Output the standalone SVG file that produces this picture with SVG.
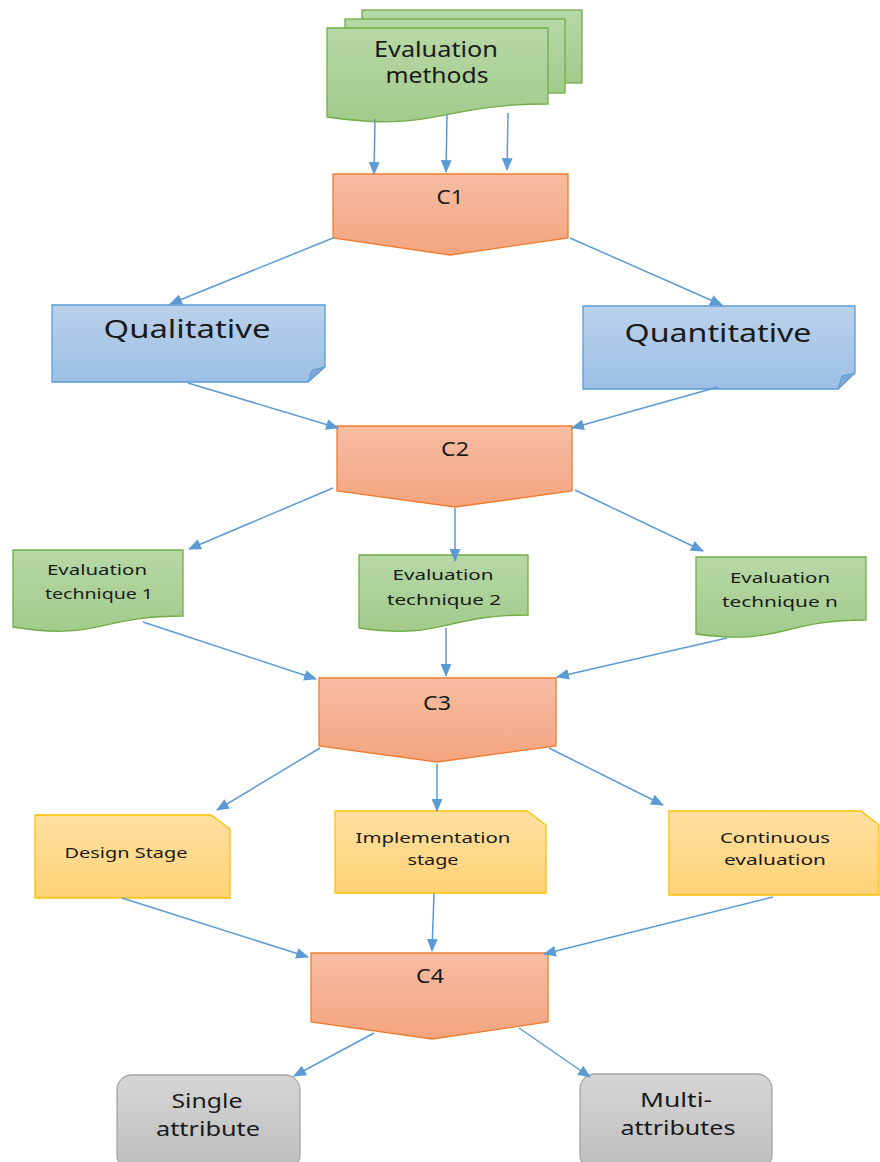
<svg xmlns="http://www.w3.org/2000/svg" width="880" height="1162" viewBox="0 0 880 1162">
  <defs>
    <linearGradient id="gGreen" x1="0" y1="0" x2="0" y2="1">
      <stop offset="0" stop-color="#b6d8a6"/>
      <stop offset="1" stop-color="#a2cb8b"/>
    </linearGradient>
    <linearGradient id="gOrange" x1="0" y1="0" x2="0" y2="1">
      <stop offset="0" stop-color="#f6bda3"/>
      <stop offset="1" stop-color="#f4a47e"/>
    </linearGradient>
    <linearGradient id="gBlue" x1="0" y1="0" x2="0" y2="1">
      <stop offset="0" stop-color="#bad1ea"/>
      <stop offset="1" stop-color="#9cbfe5"/>
    </linearGradient>
    <linearGradient id="gYellow" x1="0" y1="0" x2="0" y2="1">
      <stop offset="0" stop-color="#ffe0a0"/>
      <stop offset="1" stop-color="#ffd276"/>
    </linearGradient>
    <linearGradient id="gGray" x1="0" y1="0" x2="0" y2="1">
      <stop offset="0" stop-color="#d6d6d6"/>
      <stop offset="1" stop-color="#bdbdbd"/>
    </linearGradient>
    <marker id="arrow" viewBox="0 0 12 10" refX="11" refY="5" markerWidth="13" markerHeight="11" markerUnits="userSpaceOnUse" orient="auto">
      <path d="M0,0 L12,5 L0,10 Z" fill="#5b9bd5"/>
    </marker>
  </defs>
  <style>
    .doc { fill: url(#gGreen); stroke: #70ad47; stroke-width: 1.3; }
    .conn { fill: url(#gOrange); stroke: #ed7d31; stroke-width: 1.3; }
    .fold { fill: url(#gBlue); stroke: #5b9bd5; stroke-width: 1.3; }
    .foldTip { fill: #7ea6d3; stroke: #5b9bd5; stroke-width: 1; }
    .snip { fill: url(#gYellow); stroke: #ffc000; stroke-width: 1.3; }
    .term { fill: url(#gGray); stroke: #a5a5a5; stroke-width: 1.3; }
    .edge { fill: none; stroke: #5b9bd5; stroke-width: 1.5; marker-end: url(#arrow); }
    text { font-family: "Noto Sans", "DejaVu Sans", sans-serif; fill: #1a1a1a; text-anchor: middle; }
    .big { font-size: 25px; }
    .mid { font-size: 21px; }
    .clab { font-size: 19px; }
    .small { font-size: 15px; }
    .bottom { font-size: 20px; }
  </style>

  <!-- stacked documents -->
  <g id="evaluation-methods">
    <rect class="doc" x="362" y="10" width="220" height="73"/>
    <rect class="doc" x="345" y="19" width="220" height="74"/>
    <path class="doc" d="M327,28 H548 V104 C437,104 437,133 327,117 Z"/>
    <text class="mid" x="436" y="57" textLength="124" lengthAdjust="spacingAndGlyphs">Evaluation</text>
    <text class="mid" x="437" y="83" textLength="103" lengthAdjust="spacingAndGlyphs">methods</text>
  </g>

  <!-- off-page connectors -->
  <g id="c1">
    <path class="conn" d="M333,174 H568 V238 L450,255 L333,238 Z"/>
    <text class="clab" x="450" y="204" textLength="27" lengthAdjust="spacingAndGlyphs">C1</text>
  </g>
  <g id="c2">
    <path class="conn" d="M337,426 H572 V491 L455,507 L337,491 Z"/>
    <text class="clab" x="455" y="456" textLength="28" lengthAdjust="spacingAndGlyphs">C2</text>
  </g>
  <g id="c3">
    <path class="conn" d="M319,678 H556 V746 L437,762 L319,746 Z"/>
    <text class="clab" x="437" y="710" textLength="28" lengthAdjust="spacingAndGlyphs">C3</text>
  </g>
  <g id="c4">
    <path class="conn" d="M311,953 H548 V1022 L432,1039 L311,1022 Z"/>
    <text class="clab" x="430" y="983" textLength="28" lengthAdjust="spacingAndGlyphs">C4</text>
  </g>

  <!-- folded-corner boxes -->
  <g id="qualitative">
    <path class="fold" d="M52,305 H325 V367 L308,382 H52 Z"/>
    <path class="foldTip" d="M308,382 L312,370 L325,367 Z"/>
    <text class="big" x="187" y="338" textLength="167" lengthAdjust="spacingAndGlyphs">Qualitative</text>
  </g>
  <g id="quantitative">
    <path class="fold" d="M583,306 H855 V373 L838,389 H583 Z"/>
    <path class="foldTip" d="M838,389 L842,376 L855,373 Z"/>
    <text class="big" x="718" y="342" textLength="187" lengthAdjust="spacingAndGlyphs">Quantitative</text>
  </g>

  <!-- technique documents -->
  <g id="technique-1">
    <path class="doc" d="M13,550 H183 V616 C98,616 98,641 13,627 Z"/>
    <text class="small" x="97" y="575" textLength="100" lengthAdjust="spacingAndGlyphs">Evaluation</text>
    <text class="small" x="99" y="599" textLength="108" lengthAdjust="spacingAndGlyphs">technique 1</text>
  </g>
  <g id="technique-2">
    <path class="doc" d="M359,555 H528 V615 C443,615 443,640 359,628 Z"/>
    <text class="small" x="443" y="580" textLength="101" lengthAdjust="spacingAndGlyphs">Evaluation</text>
    <text class="small" x="444" y="605" textLength="114" lengthAdjust="spacingAndGlyphs">technique 2</text>
  </g>
  <g id="technique-n">
    <path class="doc" d="M696,557 H866 V620 C781,620 781,646 696,634 Z"/>
    <text class="small" x="780" y="583" textLength="100" lengthAdjust="spacingAndGlyphs">Evaluation</text>
    <text class="small" x="780" y="607" textLength="116" lengthAdjust="spacingAndGlyphs">technique n</text>
  </g>

  <!-- snipped-corner stage boxes -->
  <g id="design-stage">
    <path class="snip" d="M35,815 H211 L230,829 V898 H35 Z"/>
    <text class="small" x="126" y="858" textLength="123" lengthAdjust="spacingAndGlyphs">Design Stage</text>
  </g>
  <g id="implementation-stage">
    <path class="snip" d="M335,811 H527 L546,825 V893 H335 Z"/>
    <text class="small" x="433" y="843" textLength="155" lengthAdjust="spacingAndGlyphs">Implementation</text>
    <text class="small" x="433" y="865" textLength="51" lengthAdjust="spacingAndGlyphs">stage</text>
  </g>
  <g id="continuous-evaluation">
    <path class="snip" d="M669,811 H861 L879,825 V895 H669 Z"/>
    <text class="small" x="775" y="843" textLength="110" lengthAdjust="spacingAndGlyphs">Continuous</text>
    <text class="small" x="775" y="865" textLength="102" lengthAdjust="spacingAndGlyphs">evaluation</text>
  </g>

  <!-- terminal boxes -->
  <g id="single-attribute">
    <rect class="term" x="117" y="1075" width="183" height="95" rx="15"/>
    <text class="bottom" x="207" y="1108" textLength="71" lengthAdjust="spacingAndGlyphs">Single</text>
    <text class="bottom" x="208" y="1136" textLength="104" lengthAdjust="spacingAndGlyphs">attribute</text>
  </g>
  <g id="multi-attributes">
    <rect class="term" x="580" y="1074" width="192" height="96" rx="15"/>
    <text class="bottom" x="676" y="1107" textLength="72" lengthAdjust="spacingAndGlyphs">Multi-</text>
    <text class="bottom" x="678" y="1135" textLength="115" lengthAdjust="spacingAndGlyphs">attributes</text>
  </g>

  <!-- connectors -->
  <g id="connectors">
    <line class="edge" x1="375" y1="119" x2="374" y2="174"/>
    <line class="edge" x1="447" y1="115" x2="446" y2="172"/>
    <line class="edge" x1="508" y1="113" x2="507" y2="170"/>

    <line class="edge" x1="333" y1="238" x2="170" y2="304"/>
    <line class="edge" x1="570" y1="238" x2="722" y2="305"/>

    <line class="edge" x1="188" y1="383" x2="338" y2="428"/>
    <line class="edge" x1="718" y1="387" x2="572" y2="428"/>

    <line class="edge" x1="333" y1="488" x2="189" y2="549"/>
    <line class="edge" x1="455" y1="508" x2="455" y2="561"/>
    <line class="edge" x1="575" y1="490" x2="703" y2="551"/>

    <line class="edge" x1="143" y1="622" x2="316" y2="679"/>
    <line class="edge" x1="446" y1="628" x2="446" y2="676"/>
    <line class="edge" x1="727" y1="638" x2="557" y2="677"/>

    <line class="edge" x1="320" y1="748" x2="217" y2="810"/>
    <line class="edge" x1="437" y1="764" x2="437" y2="811"/>
    <line class="edge" x1="549" y1="748" x2="663" y2="805"/>

    <line class="edge" x1="122" y1="898" x2="308" y2="957"/>
    <line class="edge" x1="434" y1="893" x2="432" y2="951"/>
    <line class="edge" x1="773" y1="897" x2="544" y2="954"/>

    <line class="edge" x1="374" y1="1033" x2="294" y2="1076"/>
    <line class="edge" x1="519" y1="1028" x2="590" y2="1077"/>
  </g>
</svg>
